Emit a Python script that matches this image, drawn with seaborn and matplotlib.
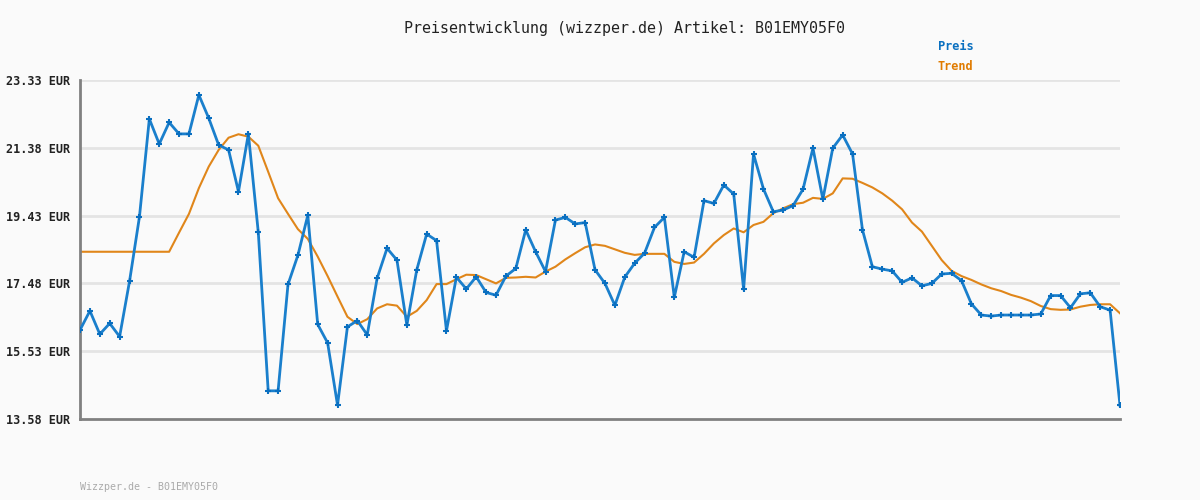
import matplotlib
matplotlib.use('Agg')
import matplotlib.pyplot as plt
import numpy as np
import pandas as pd
import seaborn as sb

# price readings (EUR), one per observation
preis = [16.14, 16.69, 16.02, 16.33, 15.95, 17.54, 19.39, 22.21, 21.49, 22.11,
         21.78, 21.78, 22.90, 22.23, 21.46, 21.32, 20.12, 21.78, 18.95, 14.39,
         14.39, 17.45, 18.29, 19.44, 16.30, 15.77, 13.98, 16.23, 16.41, 16.00,
         17.63, 18.49, 18.15, 16.28, 17.87, 18.90, 18.71, 16.12, 17.66, 17.32,
         17.67, 17.22, 17.14, 17.69, 17.91, 19.02, 18.39, 17.82, 19.30, 19.38,
         19.19, 19.23, 17.87, 17.48, 16.85, 17.66, 18.06, 18.35, 19.09, 19.38,
         17.08, 18.39, 18.23, 19.86, 19.78, 20.31, 20.05, 17.31, 21.20, 20.20,
         19.54, 19.59, 19.72, 20.19, 21.37, 19.90, 21.37, 21.75, 21.20, 19.02,
         17.96, 17.89, 17.84, 17.51, 17.64, 17.41, 17.48, 17.75, 17.77, 17.56,
         16.89, 16.57, 16.54, 16.57, 16.57, 16.57, 16.57, 16.60, 17.13, 17.13,
         16.78, 17.18, 17.21, 16.81, 16.71, 13.97]

trend = [18.39, 18.39, 18.39, 18.39, 18.39, 18.39, 18.39, 18.39, 18.39, 18.39,
         18.94, 19.48, 20.22, 20.84, 21.32, 21.67, 21.77, 21.70, 21.44, 20.69,
         19.93, 19.48, 19.04, 18.76, 18.25, 17.69, 17.10, 16.52, 16.31, 16.45,
         16.76, 16.88, 16.84, 16.52, 16.69, 17.00, 17.46, 17.46, 17.60, 17.73,
         17.72, 17.60, 17.48, 17.64, 17.65, 17.67, 17.65, 17.82, 17.96, 18.17,
         18.35, 18.52, 18.60, 18.56, 18.46, 18.36, 18.30, 18.33, 18.33, 18.33,
         18.10, 18.04, 18.08, 18.33, 18.63, 18.87, 19.06, 18.95, 19.16, 19.25,
         19.50, 19.64, 19.76, 19.80, 19.94, 19.91, 20.07, 20.50, 20.49, 20.37,
         20.24, 20.07, 19.86, 19.61, 19.23, 18.97, 18.56, 18.15, 17.84, 17.69,
         17.58, 17.45, 17.34, 17.26, 17.15, 17.07, 16.97, 16.83, 16.74, 16.72,
         16.73, 16.81, 16.86, 16.88, 16.88, 16.62]

y_ticks = [13.58, 15.53, 17.48, 19.43, 21.38, 23.33]

df = pd.DataFrame({'idx': np.arange(len(preis)), 'preis': preis, 'trend': trend})

blue = '#1a7fcc'
orange = '#e0861a'
mono = 'DejaVu Sans Mono'

fig = plt.figure(figsize=(12, 5), dpi=100, facecolor='#fafafa')
ax = fig.add_axes([80/1200, 81/500, 1040/1200, 339/500])
ax.set_facecolor('#fafafa')

for v in y_ticks[1:]:
    ax.axhline(v, color='#e4e4e4', lw=2, zorder=0)

sb.lineplot(data=df, x='idx', y='trend', ax=ax, color=orange, lw=1.5, zorder=2)
sb.lineplot(data=df, x='idx', y='preis', ax=ax, color=blue, lw=2, zorder=3,
            marker='+', markersize=5, markeredgewidth=1.5,
            markeredgecolor='#0a6fc0')

ax.set_xlim(0, len(preis) - 1)
ax.set_ylim(y_ticks[0], y_ticks[-1])
ax.set_yticks(y_ticks)
ax.set_yticklabels([f'{v:.2f} EUR' for v in y_ticks], fontfamily=mono,
                   fontweight='bold', fontsize=8.5, color='#222222')
ax.set_xticks([])
ax.tick_params(axis='y', length=0, pad=7)
ax.set_xlabel('')
ax.set_ylabel('')
for s in ['top', 'right']:
    ax.spines[s].set_visible(False)
for s in ['left', 'bottom']:
    ax.spines[s].set_color('#808080')
    ax.spines[s].set_linewidth(2)
ax.spines['left'].set_bounds(y_ticks[0], y_ticks[-1])

fig.text(624/1200, 1 - 28/500, 'Preisentwicklung (wizzper.de) Artikel: B01EMY05F0',
         ha='center', va='center', fontfamily=mono, fontsize=10.8, color='#222222')
fig.text(938/1200, 1 - 47/500, 'Preis', ha='left', va='center', fontfamily=mono,
         fontweight='bold', fontsize=8.6, color='#0a70c0')
fig.text(938/1200, 1 - 67/500, 'Trend', ha='left', va='center', fontfamily=mono,
         fontweight='bold', fontsize=8.6, color='#e07b00')
fig.text(80/1200, 1 - 487/500, 'Wizzper.de - B01EMY05F0', ha='left', va='center',
         fontfamily=mono, fontsize=7.2, color='#aaaaaa')

fig.savefig('out.png', dpi=100, facecolor=fig.get_facecolor())
